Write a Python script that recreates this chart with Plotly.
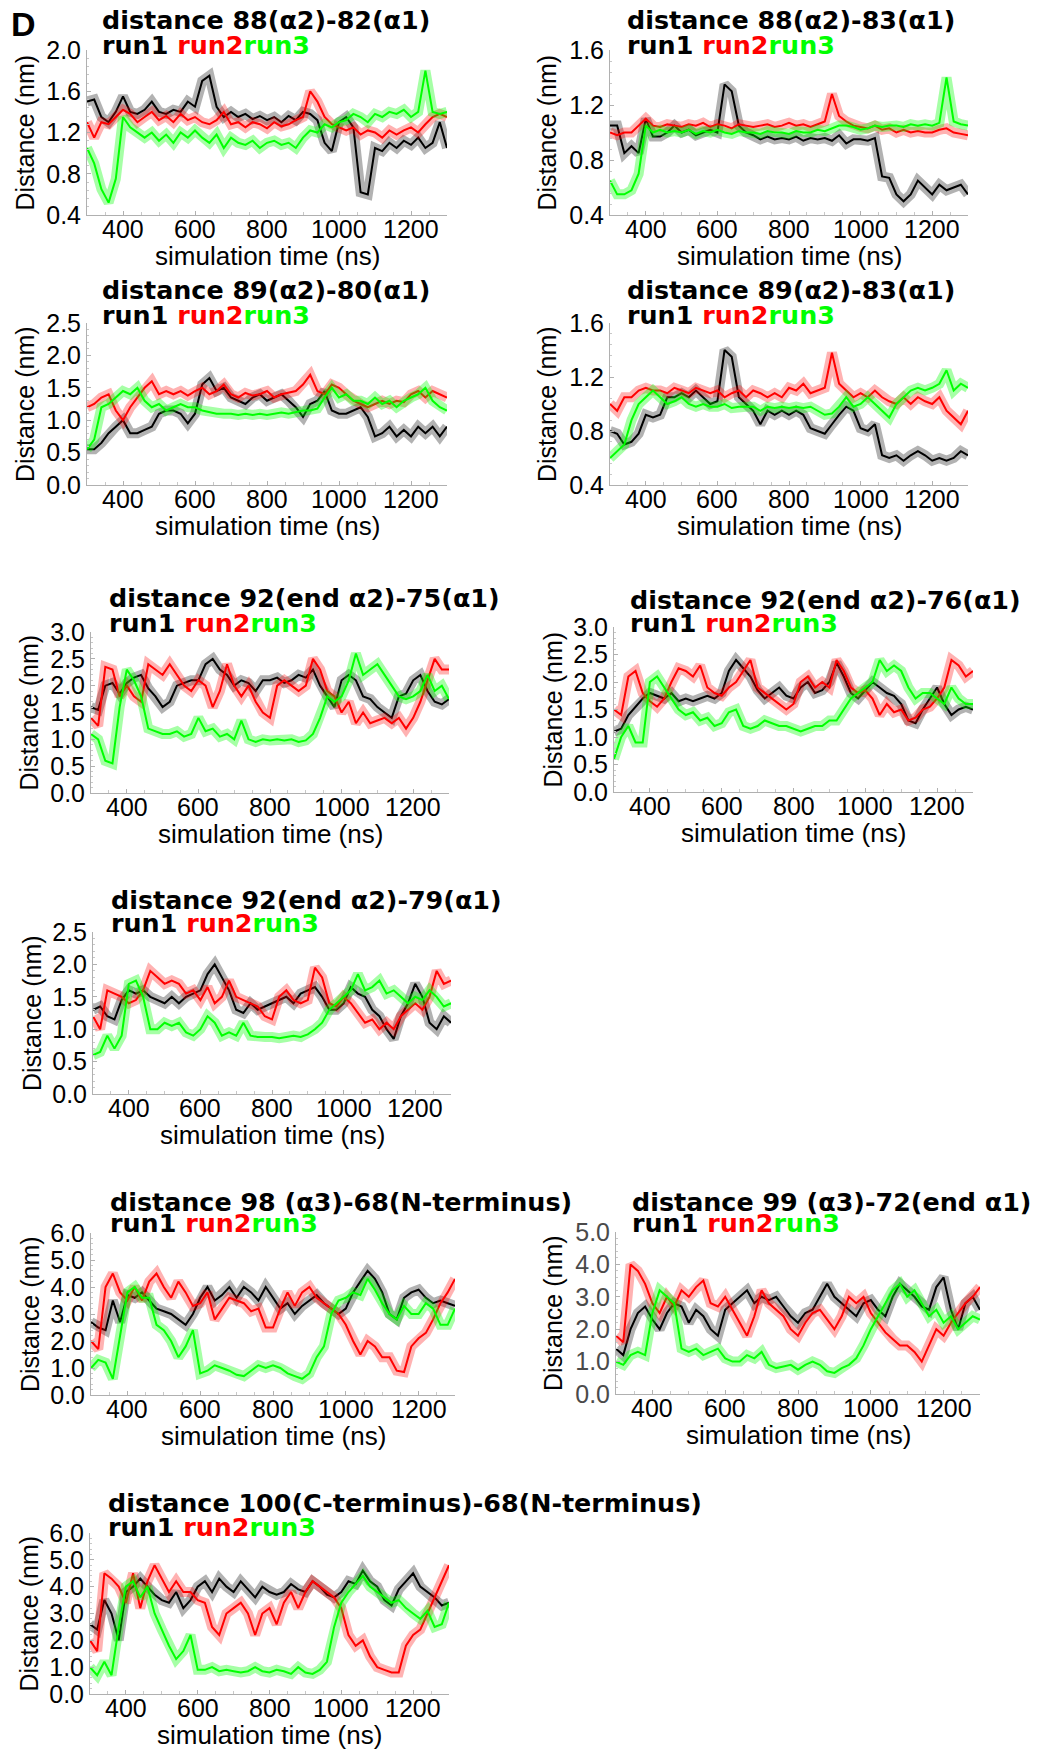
import plotly.graph_objects as go

W, H = 1037, 1753

# ---------------- data (nm), sampled every 20 ns from 300 to 1300 ns ----------------
time_ns = list(range(300, 1301, 20))

p1_run1 = [1.50,1.52,1.35,1.30,1.40,1.55,1.40,1.38,1.42,1.50,
           1.40,1.38,1.42,1.40,1.50,1.45,1.70,1.75,1.45,1.35,
           1.40,1.35,1.38,1.33,1.36,1.32,1.35,1.30,1.36,1.32,
           1.40,1.38,1.32,1.10,1.02,1.30,1.35,1.25,0.62,0.60,
           1.05,1.02,1.10,1.05,1.12,1.08,1.15,1.05,1.10,1.30,
           1.05]
p1_run2 = [1.30,1.15,1.30,1.28,1.35,1.42,1.38,1.30,1.35,1.40,
           1.32,1.36,1.30,1.38,1.32,1.35,1.30,1.28,1.32,1.40,
           1.28,1.30,1.25,1.30,1.28,1.24,1.30,1.26,1.28,1.32,
           1.35,1.60,1.50,1.35,1.28,1.25,1.22,1.25,1.18,1.22,
           1.20,1.15,1.22,1.18,1.22,1.25,1.20,1.28,1.35,1.38,
           1.35]
p1_run3 = [1.05,0.90,0.65,0.52,0.75,1.35,1.25,1.20,1.15,1.20,
           1.12,1.18,1.10,1.20,1.15,1.22,1.15,1.10,1.18,1.05,
           1.15,1.10,1.08,1.12,1.05,1.10,1.12,1.08,1.10,1.05,
           1.15,1.22,1.20,1.28,1.25,1.30,1.32,1.38,1.35,1.30,
           1.38,1.35,1.40,1.38,1.42,1.35,1.40,1.80,1.40,1.38,
           1.40]

p2_run1 = [1.05,1.05,0.85,0.90,0.85,1.10,0.97,0.97,1.00,1.05,
           1.00,1.02,0.98,1.00,1.02,1.00,1.35,1.30,1.05,1.00,
           0.98,0.95,0.97,0.95,0.96,0.95,0.97,0.94,0.96,0.95,
           0.96,0.94,0.98,0.92,0.95,0.95,0.94,0.96,0.68,0.67,
           0.55,0.50,0.55,0.65,0.60,0.55,0.62,0.58,0.60,0.62,
           0.55]
p2_run2 = [1.00,0.98,1.00,1.00,1.05,1.10,1.05,1.04,1.06,1.05,
           1.04,1.06,1.05,1.07,1.04,1.06,1.05,1.03,1.06,1.05,
           1.04,1.05,1.06,1.04,1.05,1.07,1.05,1.06,1.04,1.06,
           1.08,1.28,1.12,1.08,1.05,1.04,1.03,1.05,1.02,1.03,
           1.00,1.02,1.00,1.01,1.00,1.00,1.02,1.03,1.00,0.99,
           0.98]
p2_run3 = [0.65,0.55,0.55,0.58,0.70,1.05,1.00,1.02,1.00,1.01,
           1.00,1.02,0.99,1.01,1.00,1.02,1.00,0.99,1.01,1.00,
           1.00,0.99,1.01,1.00,1.00,0.99,1.01,1.00,1.00,1.02,
           1.01,1.03,1.05,1.05,1.04,1.02,1.03,1.05,1.04,1.05,
           1.05,1.04,1.06,1.05,1.06,1.05,1.07,1.40,1.08,1.06,
           1.05]

p3_run1 = [0.55,0.55,0.65,0.80,0.90,1.00,0.80,0.80,0.85,0.90,
           1.10,1.15,1.15,1.10,0.95,1.10,1.55,1.65,1.45,1.50,
           1.35,1.30,1.25,1.35,1.40,1.30,1.35,1.40,1.30,1.20,
           1.05,1.25,1.30,1.45,1.15,1.10,1.10,1.15,1.20,1.05,
           0.75,0.80,0.90,0.75,0.85,0.75,0.90,0.80,0.90,0.75,
           0.90]
p3_run2 = [1.20,1.25,1.35,1.40,1.15,1.00,1.20,1.35,1.50,1.60,
           1.40,1.45,1.40,1.45,1.38,1.45,1.50,1.40,1.45,1.55,
           1.40,1.35,1.42,1.38,1.40,1.45,1.35,1.40,1.42,1.45,
           1.55,1.70,1.45,1.40,1.55,1.50,1.40,1.30,1.25,1.20,
           1.25,1.30,1.25,1.30,1.28,1.40,1.45,1.35,1.45,1.40,
           1.35]
p3_run3 = [0.55,0.70,1.20,1.25,1.35,1.45,1.40,1.50,1.30,1.20,
           1.25,1.15,1.20,1.25,1.20,1.20,1.15,1.12,1.10,1.10,
           1.10,1.08,1.10,1.08,1.10,1.08,1.10,1.12,1.10,1.12,
           1.15,1.15,1.18,1.35,1.50,1.35,1.40,1.30,1.30,1.25,
           1.35,1.25,1.30,1.20,1.30,1.35,1.40,1.50,1.30,1.20,
           1.15]

p4_run1 = [0.80,0.78,0.70,0.72,0.78,0.92,0.90,0.92,1.05,1.05,
           1.08,1.05,1.10,1.05,1.00,1.02,1.40,1.35,1.05,1.00,
           0.95,0.85,0.95,0.92,0.95,0.92,0.95,0.92,0.82,0.80,
           0.78,0.85,0.92,0.98,0.95,0.82,0.80,0.85,0.62,0.60,
           0.62,0.58,0.62,0.65,0.62,0.58,0.60,0.58,0.60,0.65,
           0.62]
p4_run2 = [1.00,0.95,1.05,1.05,1.10,1.12,1.10,1.10,1.08,1.12,
           1.10,1.08,1.12,1.10,1.08,1.10,1.05,1.08,1.10,1.05,
           1.10,1.08,1.05,1.08,1.05,1.12,1.10,1.15,1.08,1.10,
           1.12,1.38,1.15,1.10,1.05,1.08,1.05,1.10,1.05,1.02,
           1.00,1.05,1.00,1.05,1.02,1.00,1.05,0.95,0.90,0.85,
           0.95]
p4_run3 = [0.60,0.65,0.70,0.88,1.00,1.05,1.10,1.05,1.00,1.02,
           1.05,1.00,0.98,1.00,0.98,0.98,1.00,0.97,0.98,0.98,
           0.98,0.95,0.98,0.97,0.98,0.97,0.98,0.97,0.98,0.95,
           0.92,0.93,0.98,1.05,0.98,1.00,1.05,1.00,0.95,0.90,
           1.00,1.05,1.10,1.12,1.10,1.12,1.15,1.25,1.10,1.15,
           1.12]

p5_run1 = [1.60,1.55,2.00,2.05,1.85,2.05,2.15,2.20,1.95,1.80,
           1.60,1.70,2.00,2.05,2.10,2.10,2.40,2.50,2.30,2.20,
           2.00,2.10,2.05,1.90,2.10,2.10,2.15,2.05,2.10,2.20,
           2.15,2.30,2.00,1.80,1.60,2.10,2.20,2.10,1.80,1.75,
           1.60,1.50,1.40,1.80,1.85,2.10,2.20,1.90,1.70,1.65,
           1.75]
p5_run2 = [1.40,1.25,2.35,2.30,1.80,2.00,1.80,1.70,2.40,2.30,
           2.20,2.40,2.20,2.00,1.90,2.10,2.00,1.60,1.90,2.40,
           2.00,1.80,2.00,1.70,1.50,1.40,2.00,2.10,2.00,1.90,
           2.00,2.50,2.30,1.90,1.80,1.50,1.70,1.30,1.50,1.30,
           1.35,1.40,1.30,1.40,1.20,1.40,1.70,2.10,2.50,2.30,
           2.30]
p5_run3 = [1.10,1.00,0.60,0.55,1.60,2.30,2.10,1.80,1.20,1.15,
           1.10,1.10,1.15,1.05,1.10,1.40,1.15,1.20,1.05,1.10,
           1.00,1.35,1.00,0.95,1.00,0.98,1.00,0.98,1.00,0.95,
           0.98,1.10,1.40,1.80,1.70,1.80,2.10,2.60,2.20,2.30,
           2.40,2.20,2.00,1.80,1.75,1.80,1.90,2.20,1.90,2.00,
           1.75]

p6_run1 = [1.10,1.15,1.40,1.55,1.70,1.80,1.75,1.70,1.80,1.65,
           1.70,1.65,1.70,1.75,1.70,1.80,2.20,2.40,2.25,2.10,
           1.85,1.70,1.80,1.90,1.75,1.70,1.90,2.00,1.80,1.85,
           2.00,2.35,2.10,1.80,1.70,1.85,2.00,1.90,1.80,1.75,
           1.60,1.30,1.25,1.50,1.70,1.90,1.60,1.40,1.50,1.55,
           1.50]
p6_run2 = [1.50,1.40,2.10,2.20,1.80,1.65,1.55,1.70,2.00,2.25,
           2.20,2.10,2.30,1.90,1.80,1.75,1.90,2.00,2.20,2.40,
           1.90,1.80,1.70,1.60,1.50,1.60,2.00,2.10,1.90,2.00,
           1.90,2.40,2.20,1.90,1.80,1.85,1.70,1.40,1.60,1.45,
           1.50,1.30,1.35,1.50,1.55,1.70,1.90,2.40,2.30,2.10,
           2.20]
p6_run3 = [0.60,1.00,1.20,0.90,0.90,2.00,2.10,1.90,1.70,1.50,
           1.40,1.45,1.30,1.35,1.20,1.25,1.45,1.50,1.20,1.15,
           1.20,1.30,1.25,1.20,1.20,1.15,1.10,1.15,1.20,1.20,
           1.30,1.30,1.50,1.70,1.80,1.90,2.00,2.40,2.20,2.30,
           2.20,1.90,1.70,1.80,1.80,1.70,1.60,1.90,1.70,1.60,
           1.60]

p7_run1 = [1.30,1.35,1.20,1.15,1.45,1.60,1.55,1.60,1.50,1.45,
           1.40,1.50,1.40,1.50,1.55,1.60,1.85,2.00,1.80,1.60,
           1.30,1.25,1.40,1.30,1.35,1.40,1.45,1.50,1.40,1.55,
           1.60,1.65,1.50,1.30,1.30,1.40,1.65,1.55,1.50,1.30,
           1.20,1.00,0.85,1.20,1.40,1.70,1.50,1.10,1.00,1.20,
           1.10]
p7_run2 = [1.20,1.00,1.60,1.55,1.50,1.40,1.45,1.60,1.90,1.80,
           1.70,1.75,1.70,1.55,1.60,1.45,1.65,1.40,1.50,1.75,
           1.50,1.45,1.40,1.35,1.20,1.15,1.50,1.60,1.45,1.40,
           1.45,1.95,1.80,1.40,1.35,1.50,1.40,1.25,1.10,1.15,
           1.00,1.10,1.00,1.20,1.30,1.40,1.30,1.50,1.90,1.70,
           1.75]
p7_run3 = [0.60,0.65,0.90,0.70,0.90,1.70,1.75,1.50,1.00,1.00,
           1.10,1.05,1.10,0.95,0.90,1.00,1.20,1.10,0.90,0.95,
           0.90,1.10,0.90,0.88,0.88,0.88,0.86,0.88,0.90,0.88,
           0.92,1.00,1.10,1.30,1.40,1.50,1.60,1.85,1.60,1.65,
           1.75,1.55,1.60,1.50,1.40,1.50,1.45,1.60,1.50,1.35,
           1.40]

p8_run1 = [2.70,2.50,2.40,3.50,2.70,3.70,3.60,3.80,3.50,3.20,
           3.10,3.00,2.80,2.60,3.00,3.60,4.00,3.50,3.70,4.00,
           3.60,4.00,3.80,3.50,4.00,3.60,3.20,3.40,3.00,3.30,
           3.50,3.70,3.40,3.20,3.00,3.20,3.80,4.20,4.60,4.30,
           3.80,3.00,2.80,3.60,3.80,3.90,3.60,3.40,3.50,3.40,
           3.30]
p8_run2 = [2.00,1.70,4.00,4.50,3.80,3.50,4.00,3.50,4.20,4.50,
           4.00,3.60,4.20,3.80,3.30,3.40,3.80,2.80,3.20,3.60,
           3.50,3.40,3.10,3.20,2.50,2.50,3.20,3.80,3.30,3.80,
           4.00,3.60,3.40,3.20,3.00,2.60,2.00,1.50,2.00,1.80,
           1.40,1.40,0.90,0.85,1.80,2.10,2.30,2.80,3.40,3.80,
           4.30]
p8_run3 = [1.00,1.30,1.20,0.60,2.20,3.80,4.00,3.60,3.60,2.60,
           2.40,2.00,1.40,1.80,2.40,0.80,0.90,1.10,1.00,0.90,
           0.75,0.70,0.90,1.10,1.00,1.10,1.00,0.80,0.70,0.60,
           0.80,1.40,1.80,3.00,3.50,3.60,3.80,3.70,4.30,3.90,
           3.40,3.00,2.80,3.30,3.00,3.00,3.40,3.20,2.60,2.60,
           3.20]

p9_run1 = [1.40,1.20,2.00,2.50,2.70,2.30,2.00,2.50,2.80,2.70,
           2.20,2.60,2.40,2.00,1.80,2.60,2.80,3.00,3.20,2.80,
           3.00,2.90,3.00,2.70,2.40,2.20,2.50,2.60,3.00,3.40,
           3.00,2.80,2.60,2.40,2.80,2.90,2.60,2.40,3.00,3.40,
           3.20,3.00,2.70,2.60,3.30,3.60,2.60,2.00,2.80,3.00,
           2.60]
p9_run2 = [1.80,1.60,4.00,3.80,3.40,2.80,2.50,3.00,2.70,3.20,
           3.00,3.30,3.50,2.80,2.70,3.00,2.60,2.20,1.80,2.40,
           3.20,2.80,2.60,2.40,2.00,1.80,2.20,2.50,2.60,2.30,
           2.00,2.40,3.00,2.80,3.00,2.50,2.20,1.90,1.70,1.50,
           1.50,1.30,1.00,1.50,2.00,1.80,2.20,2.50,2.80,3.00,
           3.30]
p9_run3 = [1.00,0.90,1.20,1.30,1.20,2.50,3.20,3.00,2.80,1.40,
           1.30,1.40,1.20,1.30,1.40,1.10,1.00,1.00,1.20,1.10,
           1.30,0.90,0.80,0.85,0.90,0.75,0.90,1.00,0.90,0.70,
           0.65,0.80,0.90,1.10,1.50,2.00,2.40,2.80,3.20,3.40,
           3.00,3.20,2.80,2.40,2.60,2.20,2.40,2.00,2.20,2.40,
           2.30]

p10_run1 = [2.60,2.40,3.50,3.00,2.00,3.80,4.00,4.30,4.00,3.70,
            3.50,3.40,3.80,3.20,3.50,4.00,4.20,3.80,4.30,4.00,
            3.80,4.20,3.90,3.60,4.00,3.80,3.70,3.80,4.10,3.90,
            3.80,4.20,4.00,3.70,3.60,3.80,4.20,4.10,4.60,4.20,
            4.00,3.50,3.30,3.90,4.20,4.50,4.00,3.80,3.60,3.30,
            3.40]
p10_run2 = [2.00,1.60,4.50,4.30,4.00,3.40,4.50,3.20,4.20,4.80,
            4.30,3.80,4.20,3.80,3.80,3.50,3.40,2.50,2.20,3.00,
            3.20,3.40,3.00,2.20,3.00,3.20,2.60,3.40,3.80,3.20,
            3.80,4.20,4.00,3.80,3.60,3.20,2.20,1.80,2.00,1.40,
            1.00,0.90,0.80,0.80,1.80,2.20,2.40,3.00,3.60,4.20,
            4.80]
p10_run3 = [1.00,0.70,1.20,0.70,2.50,4.00,4.20,3.60,4.00,3.00,
            2.40,1.80,1.30,1.60,2.20,0.90,0.90,1.00,0.85,0.90,
            0.85,0.80,0.85,1.00,0.85,0.80,0.90,0.85,0.75,1.00,
            0.80,0.75,0.90,1.20,2.50,3.40,3.80,4.10,4.40,4.00,
            3.80,3.60,3.40,3.50,3.20,3.00,2.80,3.10,2.50,2.60,
            3.40]

titles = [
    "distance 88(α2)-82(α1)",
    "distance 88(α2)-83(α1)",
    "distance 89(α2)-80(α1)",
    "distance 89(α2)-83(α1)",
    "distance 92(end α2)-75(α1)",
    "distance 92(end α2)-76(α1)",
    "distance 92(end α2)-79(α1)",
    "distance 98 (α3)-68(N-terminus)",
    "distance 99 (α3)-72(end α1)",
    "distance 100(C-terminus)-68(N-terminus)",
]
series = [
    (p1_run1, p1_run2, p1_run3), (p2_run1, p2_run2, p2_run3),
    (p3_run1, p3_run2, p3_run3), (p4_run1, p4_run2, p4_run3),
    (p5_run1, p5_run2, p5_run3), (p6_run1, p6_run2, p6_run3),
    (p7_run1, p7_run2, p7_run3), (p8_run1, p8_run2, p8_run3),
    (p9_run1, p9_run2, p9_run3), (p10_run1, p10_run2, p10_run3),
]
y_ticks = [
    [0.4, 0.8, 1.2, 1.6, 2.0], [0.4, 0.8, 1.2, 1.6],
    [0.0, 0.5, 1.0, 1.5, 2.0, 2.5], [0.4, 0.8, 1.2, 1.6],
    [0.0, 0.5, 1.0, 1.5, 2.0, 2.5, 3.0], [0.0, 0.5, 1.0, 1.5, 2.0, 2.5, 3.0],
    [0.0, 0.5, 1.0, 1.5, 2.0, 2.5],
    [0.0, 1.0, 2.0, 3.0, 4.0, 5.0, 6.0], [0.0, 1.0, 2.0, 3.0, 4.0, 5.0],
    [0.0, 1.0, 2.0, 3.0, 4.0, 5.0, 6.0],
]
x_ticks = [400, 600, 800, 1000, 1200]
x_range = [300, 1300]
run_names = ["run1", "run2", "run3"]
run_colors = ["#000000", "#ff0000", "#00ff00"]
run_halo = ["rgba(0,0,0,0.30)", "rgba(255,0,0,0.30)", "rgba(0,255,0,0.35)"]

for s in series:
    for r in s:
        assert len(r) == len(time_ns)

# ---------------- layout (pixel boxes: left, right, top, bottom) ----------------
boxes = [
    (87, 447, 50, 215), (610, 968, 50, 215),
    (87, 447, 323, 485), (610, 968, 323, 485),
    (91, 449, 632, 793), (614, 973, 627, 792),
    (93, 451, 932, 1094),
    (91, 455, 1233, 1395), (616, 980, 1232, 1394),
    (90, 449, 1533, 1694),
]
title_pos = [
    (100, 20, 45), (625, 20, 45),
    (100, 290, 315), (625, 290, 315),
    (107, 598, 623), (628, 600, 623),
    (109, 900, 923),
    (108, 1202, 1223), (630, 1202, 1223),
    (106, 1503, 1527),
]
ytitle_x = [25, 547, 25, 547, 29, 552, 32, 30, 553, 28]
tick_color = ["#000000"] * 8 + ["#4a4a4a", "#000000"]

TICKFONT = "Liberation Sans, Arial, sans-serif"
TITLEFONT = "DejaVu Sans, sans-serif"

fig = go.Figure()
annotations = []
layout_axes = {}


def px_x(v):
    return v / W


def px_y(v):
    return 1 - v / H


for i, (box, runs) in enumerate(zip(boxes, series)):
    n = i + 1
    xa = "x" if n == 1 else f"x{n}"
    ya = "y" if n == 1 else f"y{n}"
    for name, col, halo, vals in zip(run_names, run_colors, run_halo, runs):
        fig.add_trace(go.Scatter(
            x=time_ns, y=vals, mode="lines", name=name,
            line=dict(color=halo, width=10), xaxis=xa, yaxis=ya,
            showlegend=False, hoverinfo="skip"))
        fig.add_trace(go.Scatter(
            x=time_ns, y=vals, mode="lines", name=name,
            line=dict(color=col, width=2), xaxis=xa, yaxis=ya,
            showlegend=False, hoverinfo="skip"))
    l, r, t, b = box
    yt = y_ticks[i]
    step = yt[1] - yt[0]
    layout_axes["xaxis" if n == 1 else f"xaxis{n}"] = dict(
        domain=[px_x(l), px_x(r)], anchor=ya, range=x_range,
        tickvals=x_ticks, showticklabels=False,
        showgrid=False, zeroline=False, automargin=False,
        showline=True, linecolor="#b0b0b0", linewidth=1,
        ticks="inside", ticklen=4, tickcolor="#b0b0b0",
        minor=dict(dtick=50, ticks="inside", ticklen=3, tickcolor="#c8c8c8"),
    )
    layout_axes["yaxis" if n == 1 else f"yaxis{n}"] = dict(
        domain=[px_y(b), px_y(t)], anchor=xa,
        range=[yt[0], yt[-1]], tickvals=yt,
        ticktext=[f"{v:.1f}" for v in yt],
        showgrid=False, zeroline=False, automargin=False,
        showline=True, linecolor="#b0b0b0", linewidth=1,
        ticks="inside", ticklen=4, tickcolor="#b0b0b0",
        minor=dict(dtick=step / 5, ticks="inside", ticklen=2, tickcolor="#c8c8c8"),
        tickfont=dict(family=TICKFONT, size=25, color=tick_color[i]),
    )
    # x tick labels, placed at the axis' own tick values
    for tv in x_ticks:
        annotations.append(dict(
            text=str(tv), xref=xa, yref="paper", x=tv, y=px_y(b + 14),
            xanchor="center", yanchor="middle", showarrow=False,
            font=dict(family=TICKFONT, size=25, color="#000000")))
    tx, ty1, ty2 = title_pos[i]
    annotations.append(dict(
        text=f"<b>{titles[i]}</b>", xref="paper", yref="paper",
        x=px_x(tx), y=px_y(ty1), xanchor="left", yanchor="middle",
        showarrow=False, font=dict(family=TITLEFONT, size=25.4, color="#000000")))
    run_txt = (f"<b><span style='color:{run_colors[0]}'>{run_names[0]}</span> "
               f"<span style='color:{run_colors[1]}'>{run_names[1]}</span>"
               f"<span style='color:{run_colors[2]}'>{run_names[2]}</span></b>")
    annotations.append(dict(
        text=run_txt, xref="paper", yref="paper",
        x=px_x(tx), y=px_y(ty2), xanchor="left", yanchor="middle",
        showarrow=False, font=dict(family=TITLEFONT, size=25.4)))
    annotations.append(dict(
        text="Distance (nm)", xref="paper", yref="paper", textangle=-90,
        x=px_x(ytitle_x[i]), y=px_y((t + b) / 2), xanchor="center", yanchor="middle",
        showarrow=False, font=dict(family=TICKFONT, size=25, color="#000000")))
    annotations.append(dict(
        text="simulation time (ns)", xref="paper", yref="paper",
        x=px_x((l + r) / 2), y=px_y(b + 41), xanchor="center", yanchor="middle",
        showarrow=False, font=dict(family=TICKFONT, size=26, color="#000000")))

annotations.append(dict(
    text="<b>D</b>", xref="paper", yref="paper", x=px_x(9), y=px_y(24),
    xanchor="left", yanchor="middle", showarrow=False,
    font=dict(family=TICKFONT, size=34, color="#000000")))

fig.update_layout(
    template="none",
    width=W, height=H, autosize=False,
    margin=dict(l=0, r=0, t=0, b=0),
    paper_bgcolor="white", plot_bgcolor="white",
    annotations=annotations, **layout_axes)

fig.write_html("out.html")
